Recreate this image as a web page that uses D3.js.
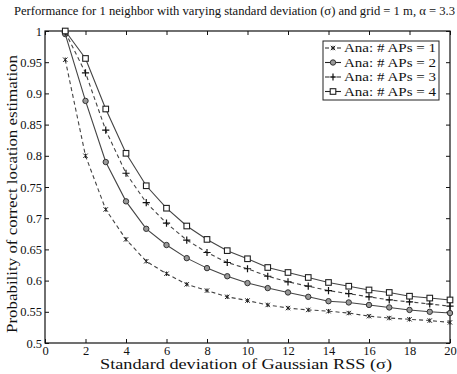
<!DOCTYPE html>
<html>
<head>
<meta charset="utf-8"/>
<script src="https://d3js.org/d3.v7.min.js"></script>
<style>
  body { margin: 0; background: #fff; }
  text { font-family: "Liberation Serif", "DejaVu Serif", serif; fill: #111; }
</style>
</head>
<body>
<svg id="chart" width="457" height="374"></svg>
<script>
  // x values (standard deviation sigma)
  const sigma = d3.range(1, 21);

  // values
  const aps1 = [0.954, 0.800, 0.714, 0.666, 0.631, 0.611, 0.594, 0.584, 0.574, 0.568,
                0.561, 0.556, 0.553, 0.551, 0.548, 0.543, 0.540, 0.538, 0.536, 0.533];
  const aps2 = [0.995, 0.888, 0.790, 0.727, 0.683, 0.657, 0.636, 0.620, 0.607, 0.596,
                0.588, 0.581, 0.574, 0.567, 0.565, 0.561, 0.557, 0.553, 0.550, 0.548];
  const aps3 = [0.998, 0.933, 0.841, 0.772, 0.725, 0.692, 0.665, 0.645, 0.629, 0.619,
                0.607, 0.598, 0.591, 0.584, 0.579, 0.574, 0.569, 0.566, 0.5625, 0.559];
  const aps4 = [1.000, 0.956, 0.875, 0.804, 0.752, 0.716, 0.6875, 0.666, 0.648, 0.635,
                0.621, 0.613, 0.605, 0.597, 0.591, 0.585, 0.581, 0.575, 0.572, 0.569];

  const legendLabels = ["Ana: # APs = 1", "Ana: # APs = 2", "Ana: # APs = 3", "Ana: # APs = 4"];
  const xTicks = d3.range(0, 21, 2);
  const yTicks = d3.range(0.5, 1.0001, 0.05);

  const series = [
    { values: aps1, dash: "4,3", marker: "star" },
    { values: aps2, dash: null, marker: "circle" },
    { values: aps3, dash: "4,3", marker: "plus" },
    { values: aps4, dash: null, marker: "square" }
  ];

  const svg = d3.select("#chart");
  const mLeft = 45, mRight = 450, mTop = 31, mBottom = 343;

  const x = d3.scaleLinear().domain([0, 20]).range([mLeft, mRight]);
  const y = d3.scaleLinear().domain([0.5, 1]).range([mBottom, mTop]);

  // frame
  svg.append("rect")
    .attr("x", mLeft).attr("y", mTop)
    .attr("width", mRight - mLeft).attr("height", mBottom - mTop)
    .attr("fill", "none").attr("stroke", "#111").attr("stroke-width", 1.2);

  // axes, ticks pointing inward
  const fmtY = d => String(+d.toFixed(2));
  svg.append("g").attr("transform", `translate(0,${mBottom})`)
    .call(d3.axisBottom(x).tickValues(xTicks).tickSize(-4).tickPadding(3))
    .call(g => g.select(".domain").remove());
  svg.append("g").attr("transform", `translate(0,${mTop})`)
    .call(d3.axisTop(x).tickValues(xTicks).tickSize(-4).tickFormat(""))
    .call(g => g.select(".domain").remove());
  svg.append("g").attr("transform", `translate(${mLeft},0)`)
    .call(d3.axisLeft(y).tickValues(yTicks).tickSize(-4).tickPadding(3).tickFormat(fmtY))
    .call(g => g.select(".domain").remove());
  svg.append("g").attr("transform", `translate(${mRight},0)`)
    .call(d3.axisRight(y).tickValues(yTicks).tickSize(-4).tickFormat(""))
    .call(g => g.select(".domain").remove());

  svg.selectAll(".tick line").attr("stroke", "#111");
  svg.selectAll(".tick text")
    .style("font-family", "'Liberation Serif', serif")
    .style("font-size", "12.5px")
    .attr("fill", "#111");

  function drawMarker(g, type, cx, cy) {
    if (type === "star") {
      const s = 2.2;
      g.append("path")
        .attr("d", `M${cx - s},${cy - s}L${cx + s},${cy + s}M${cx - s},${cy + s}L${cx + s},${cy - s}M${cx},${cy - s}L${cx},${cy + s}`)
        .attr("stroke", "#222").attr("stroke-width", 1).attr("fill", "none");
    } else if (type === "circle") {
      g.append("circle").attr("cx", cx).attr("cy", cy).attr("r", 2.7)
        .attr("fill", "#999").attr("stroke", "#333").attr("stroke-width", 1);
    } else if (type === "plus") {
      const s = 3.6;
      g.append("path")
        .attr("d", `M${cx - s},${cy}L${cx + s},${cy}M${cx},${cy - s}L${cx},${cy + s}`)
        .attr("stroke", "#111").attr("stroke-width", 1.2).attr("fill", "none");
    } else if (type === "square") {
      const s = 2.8;
      g.append("rect").attr("x", cx - s).attr("y", cy - s)
        .attr("width", 2 * s).attr("height", 2 * s)
        .attr("fill", "#fff").attr("stroke", "#222").attr("stroke-width", 1.1);
    }
  }

  const line = d3.line().x((d, i) => x(sigma[i])).y(d => y(d));

  series.forEach(s => {
    svg.append("path")
      .datum(s.values)
      .attr("d", line)
      .attr("fill", "none")
      .attr("stroke", "#444")
      .attr("stroke-width", 1.1)
      .attr("stroke-dasharray", s.dash);
    const g = svg.append("g");
    s.values.forEach((v, i) => drawMarker(g, s.marker, x(sigma[i]), y(v)));
  });

  // legend
  const lg = svg.append("g");
  lg.append("rect").attr("x", 323).attr("y", 41).attr("width", 116).attr("height", 59)
    .attr("fill", "#fff").attr("stroke", "#222").attr("stroke-width", 1);
  series.forEach((s, i) => {
    const ly = 48 + i * 14.5;
    lg.append("line").attr("x1", 325).attr("x2", 341).attr("y1", ly).attr("y2", ly)
      .attr("stroke", "#222").attr("stroke-width", 1.1).attr("stroke-dasharray", s.dash ? "4,2" : null);
    drawMarker(lg, s.marker, 333, ly);
    lg.append("text").attr("x", 344).attr("y", ly + 4)
      .attr("textLength", 92).attr("lengthAdjust", "spacingAndGlyphs")
      .style("font-size", "12px").text(legendLabels[i]);
  });

  // title and axis labels
  svg.append("text").attr("x", 14).attr("y", 15)
    .attr("textLength", 441).attr("lengthAdjust", "spacingAndGlyphs")
    .style("font-size", "12px")
    .text("Performance for 1 neighbor with varying standard deviation (σ) and grid = 1 m, α = 3.3");
  svg.append("text").attr("x", 100).attr("y", 369)
    .attr("textLength", 292).attr("lengthAdjust", "spacingAndGlyphs")
    .style("font-size", "14px")
    .text("Standard deviation of Gaussian RSS (σ)");
  svg.append("text").attr("transform", "translate(17,333) rotate(-90)")
    .attr("textLength", 278).attr("lengthAdjust", "spacingAndGlyphs")
    .style("font-size", "14px")
    .text("Probability of correct location estimation");
</script>
</body>
</html>
